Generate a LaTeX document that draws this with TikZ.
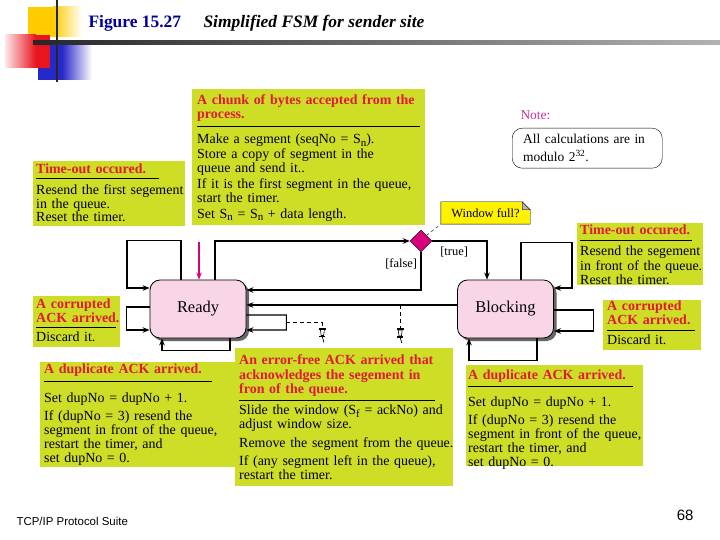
\documentclass[tikz,border=0pt]{standalone}
\usepackage{fontspec}
\setmainfont{Liberation Serif}
\newfontfamily\footfont{Liberation Sans}
\usetikzlibrary{arrows.meta,positioning,shapes.geometric,shadows,backgrounds}

\definecolor{boxgreen}{RGB}{206,221,38}
\definecolor{evred}{RGB}{225,25,55}
\definecolor{statepink}{RGB}{248,214,232}
\definecolor{choicemag}{RGB}{215,0,125}
\definecolor{notemag}{RGB}{204,51,153}
\definecolor{titleblue}{RGB}{0,0,153}
\definecolor{notey}{RGB}{255,242,0}
\definecolor{decyellow}{RGB}{255,204,0}
\definecolor{decred}{RGB}{232,20,30}
\definecolor{decblue}{RGB}{40,40,200}

\newcommand{\evhead}[1]{{\color{evred}\bfseries\strut #1\strut}\par}
\newcommand{\evrule}[3]{\vspace{#2}\hrule width #1 height 1.1bp\vspace{#3}\strut\ignorespaces}
\newcommand{\lowsub}[1]{\raisebox{-0.35ex}{\fontsize{11}{11}\selectfont #1}}

\begin{document}
\begin{tikzpicture}[
    x=1bp, y=-1bp,
    >={Stealth[length=7bp,width=5.5bp]},
    trans/.style={->,line width=1.1bp},
    newarr/.style={->,line width=1.1bp,choicemag},
    link/.style={line width=0.9bp,dash pattern=on 4bp off 3bp},
    state/.style={draw,line width=0.8bp,rounded corners=10bp,fill=statepink,
        minimum width=96bp,minimum height=58bp,font=\fontsize{16.5}{16}\selectfont,
        drop shadow={shadow xshift=3bp,shadow yshift=-3bp,fill=black!60,opacity=1}},
    choice/.style={diamond,draw,fill=choicemag,minimum width=22bp,minimum height=22bp,inner sep=0pt},
    cbox/.style={fill=boxgreen,anchor=north west,inner sep=0pt},
    ctext/.style={anchor=north west,inner sep=0pt,text width=260bp,align=left,
        font=\fontsize{14}{14}\selectfont},
    lbl/.style={font=\fontsize{12.5}{12}\selectfont},
    pushpin/.pic={
        \fill (-3.5,0) rectangle (3.5,2);
        \draw[line width=0.6bp,fill=white] (-2,2) -- (2,2) -- (1.2,8) -- (-1.2,8) -- cycle;
        \fill (-3,8) rectangle (3,9.5);
        \draw[line width=0.7bp] (0,9.5) -- (1.5,15);
    },
]
\useasboundingbox (0,0) rectangle (720,540);
\begin{scope}[on background layer]
    \fill[white] (0,0) rectangle (720,540);
\end{scope}

% === Slide header ===
\fill[decyellow] (28,7) rectangle (53,37);
\shade[left color=decyellow,right color=white] (53,7) rectangle (82,37);
\fill[decblue] (38,45) rectangle (62,80);
\shade[left color=decblue,right color=white] (62,45) rectangle (92,80);
\shade[left color=decred!10,right color=decred] (5,35) rectangle (36,68);
\fill[decred] (36,35) rectangle (50,68);
\draw[line width=2.5bp,black!85] (57,0) -- (57,82);
\shade[left color=black!85,right color=black!30] (33,41) rectangle (720,45);
\node[anchor=base west,font=\fontsize{17.5}{20}\selectfont\bfseries,titleblue] (fig) at (85,28) {Figure 15.27};
\node[anchor=base west,font=\fontsize{17.5}{20}\selectfont\bfseries\itshape] (cap) at (200,28) {Simplified FSM for sender site};

% === Event boxes ===
\node[cbox,minimum width=233bp,minimum height=136bp] (chunk) at (192,89) {};
\node[ctext] (chunk-t) at ([shift={(5,5.7)}]chunk.north west) {%
    \evhead{A chunk of bytes accepted from the\\ process.}%
    \evrule{223bp}{2.9bp}{7.3bp}%
    Make a segment (seqNo = S\lowsub{n}).\\
    Store a copy of segment in the\\
    queue and send it..\\[2pt]
    If it is the first segment in the queue,\\
    start the timer.\\[2pt]
    Set S\lowsub{n} = S\lowsub{n} + data length.};

\node[cbox,minimum width=152bp,minimum height=65bp] (tol) at (33,161) {};
\node[ctext] (tol-t) at ([shift={(3,2.7)}]tol.north west) {%
    \evhead{Time-out occured.}%
    \evrule{123bp}{0bp}{5.3bp}%
    Resend the first segement\\
    in the queue.\\
    Reset the timer.};

\node[cbox,minimum width=126bp,minimum height=62bp] (tor) at (577,223) {};
\node[ctext] (tor-t) at ([shift={(3,1.7)}]tor.north west) {%
    \evhead{Time-out occured.}%
    \evrule{112bp}{0.9bp}{5.3bp}%
    Resend the segement\\
    in front of the queue.\\
    Reset the timer.};

\node[cbox,minimum width=98bp,minimum height=50bp] (cor) at (603,300) {};
\node[ctext] (cor-t) at ([shift={(4,0.7)}]cor.north west) {%
    \evhead{A corrupted\\ ACK arrived.}%
    \evrule{88bp}{0.9bp}{4.3bp}%
    Discard it.};

\node[cbox,minimum width=87bp,minimum height=51bp] (col) at (33,296) {};
\node[ctext] (col-t) at ([shift={(3,2.7)}]col.north west) {%
    \evhead{A corrupted\\ ACK arrived.}%
    \evrule{80bp}{0bp}{4.3bp}%
    Discard it.};

\node[cbox,minimum width=207bp,minimum height=105bp] (dupl) at (40,362) {};
\node[ctext] (dupl-t) at ([shift={(4,1.7)}]dupl.north west) {%
    \evhead{A duplicate ACK arrived.}%
    \evrule{168bp}{2.9bp}{10.8bp}%
    Set dupNo = dupNo + 1.\\[3pt]
    If (dupNo = 3) resend the\\
    segment in front of the queue,\\
    restart the timer, and\\
    set dupNo = 0.};

\node[cbox,minimum width=177bp,minimum height=101bp] (dupr) at (466,365) {};
\node[ctext] (dupr-t) at ([shift={(2,4.7)}]dupr.north west) {%
    \evhead{A duplicate ACK arrived.}%
    \evrule{165bp}{1.9bp}{10.3bp}%
    Set dupNo = dupNo + 1.\\[3pt]
    If (dupNo = 3) resend the\\
    segment in front of the queue,\\
    restart the timer, and\\
    set dupNo = 0.};

\node[cbox,minimum width=218bp,minimum height=138bp] (ackok) at (235,348) {};
\node[ctext] (ackok-t) at ([shift={(4,6.7)}]ackok.north west) {%
    \evhead{An error-free ACK arrived that\\[0.5pt] acknowledges the segement in\\[0.5pt] fron of the queue.}%
    \evrule{196bp}{1.9bp}{4.3bp}%
    Slide the window (S\lowsub{f} = ackNo) and\\
    adjust window size.\\[5pt]
    Remove the segment from the queue.\\[4pt]
    If (any segment left in the queue),\\
    restart the timer.};

% === Note ===
\node[anchor=base west,notemag,font=\fontsize{13.5}{14}\selectfont] (note-l) at (517,119.5) {Note:};
\node[draw,thin,rounded corners=10bp,anchor=north west,minimum width=150bp,minimum height=40bp,
    text width=128bp,inner xsep=11bp,align=left,font=\fontsize{13.5}{14}\selectfont] (calc)
    at (512,128) {All calculations are in\\[4pt] modulo 2\textsuperscript{32}.};

% === States and choice ===
\node[state] (ready) at (198,309) {Ready};
\node[state] (blocking) at (505.5,309) {Blocking};
\node[choice] (full) at (421,241) {};
\node[lbl,minimum width=89bp,minimum height=22bp,inner sep=0pt] (wfull) at (485.5,213) {Window full?};
\begin{scope}[on background layer]
    \draw[thin,fill=notey] (wfull.south west) -- (wfull.south east) -- ([yshift=-8bp]wfull.north east)
        -- ([xshift=-8bp]wfull.north east) -- (wfull.north west) -- cycle;
    \draw[thin,fill=gray!60] ([xshift=-8bp]wfull.north east) -- ([xshift=-8bp,yshift=-8bp]wfull.north east)
        -- ([yshift=-8bp]wfull.north east) -- cycle;
\end{scope}

% === Ready transitions ===
\coordinate (src) at (199,242);
\draw[newarr] (src) -- (src |- ready.north);
\draw[trans] ([xshift=17bp]ready.north) |- (full.west);
\draw[trans] ([xshift=-17bp]ready.north) |- ++(-54,-39) |- ([yshift=21bp]ready.west);
\draw[trans] ([yshift=2bp]ready.west) -- ++(-23,0) |- ([yshift=-21bp]ready.west);
\draw[trans] ([yshift=-6bp]ready.east) -- ++(40,0) -- coordinate[midway] (rl) ++(0,15) -- ([yshift=-21bp]ready.east);
\draw[trans] ([xshift=32bp]ready.south) -- ++(0,12) -| ([xshift=-36bp]ready.south);

% === Choice ===
\draw[trans] (full.south) |- node[lbl,pos=0.16,left] (flbl) {[false]} ([yshift=19bp]ready.east);
\draw[trans] (full.east) -| node[lbl,pos=0.2,below,yshift=-2bp] (tlbl) {[true]} ([xshift=-18.5bp]blocking.north);
\draw[dashed,thin] (full.north east) -- (wfull.south west);

% === Blocking transitions ===
\draw[trans] ([yshift=4bp]blocking.west) -- coordinate[pos=0.27] (bl) ([yshift=4bp]ready.east);
\draw[trans] ([xshift=15.5bp]blocking.north) |- ++(51,-37) |- ([yshift=21bp]blocking.east);
\draw[trans] ([yshift=-1bp]blocking.east) -- ++(40,0) |- ([yshift=-22bp]blocking.east);
\draw[trans] ([xshift=31.5bp]blocking.south) -- ++(0,22) -| ([xshift=-36.5bp]blocking.south);

% === Links to the ACK box ===
\draw[link] (rl) -| ++(36,5) coordinate (pa);
\draw[link] (bl) -- ++(0,23) coordinate (pb);
\pic at (pa) {pushpin};
\pic at (pb) {pushpin};

% === Footer ===
\node[anchor=base west,font=\footfont\fontsize{11.5}{12}\selectfont] (suite) at (13,525) {TCP/IP Protocol Suite};
\node[anchor=base east,font=\footfont\fontsize{15}{15}\selectfont] (page) at (697,520.5) {68};
\end{tikzpicture}
\end{document}
